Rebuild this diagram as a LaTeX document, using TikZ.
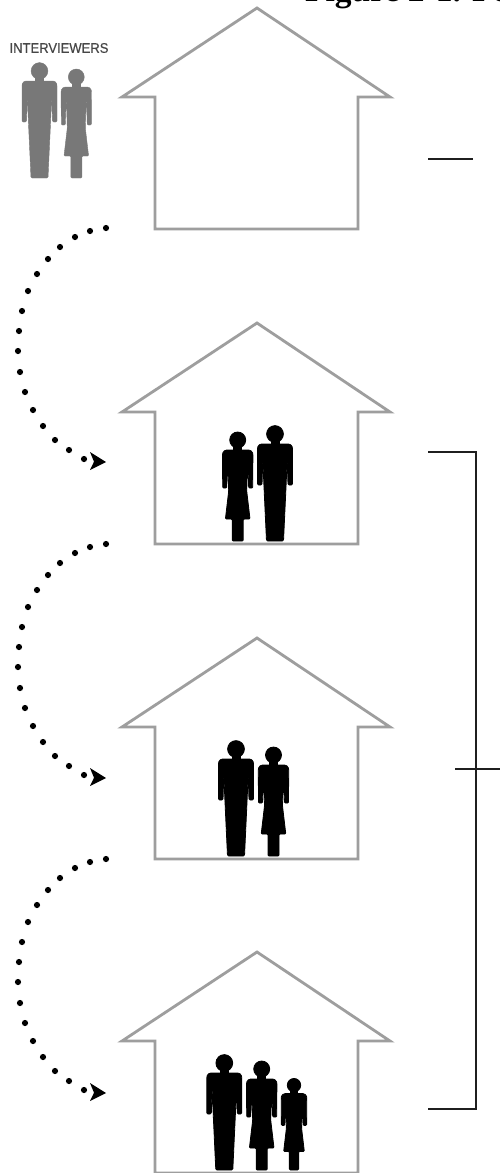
\documentclass[tikz,border=0pt]{standalone}
\usepackage{fontspec}
\setmainfont{Liberation Serif}
\newfontfamily\labelfont[FakeBold=0.5]{Liberation Sans}
\definecolor{wallgrey}{gray}{0.62}
\definecolor{intgrey}{gray}{0.47}
\tikzset{
  wall/.style={draw=wallgrey,line width=2.8pt,line join=miter,fill=white},
  bracket/.style={draw=black!88,line width=2.1pt},
  figblack/.style={fill=black,draw=black,line width=.8pt,line join=round},
  figgrey/.style={fill=intgrey,draw=intgrey,line width=.4pt,line join=round},
  pics/house/.style={code={
    \draw[wall] (122,0) -- (257,-89) -- (390,0) -- (358,0) -- (358,132) -- (155,132) -- (155,0) -- cycle;
  }},
  pics/man/.style={code={
    \path[pic actions] (0,-107) circle (8.4);
    \path[pic actions] (-4,-95) rectangle (4,-102);
    \path[pic actions,rounded corners=1.2pt] (-8.5,0) -- (-11,-54) -- (-12.2,-82) -- (-13,-56) -- (-17.5,-56)
      -- (-17.5,-93) [rounded corners=3pt] -- (-16.5,-97) -- (16.5,-97) [rounded corners=1.2pt] -- (17.5,-93) -- (17.5,-56) -- (13,-56)
      -- (12.2,-82) -- (11,-54) -- (8.5,0) -- cycle;
  }},
  pics/woman/.style={code={
    \path[pic actions] (0,-101) circle (8);
    \path[pic actions] (-4,-89) rectangle (4,-96);
    \path[pic actions,rounded corners=1pt] (-5.5,0) -- (-5.5,-22) -- (-12.3,-22) -- (-9,-50) -- (-10,-82) -- (-11,-53) -- (-15,-53)
      -- (-15.2,-87) [rounded corners=3pt] -- (-14,-91) -- (14,-91) [rounded corners=1pt] -- (15.2,-87) -- (15,-53) -- (11,-53)
      -- (10,-82) -- (9,-50) -- (12.3,-22) -- (5.5,-22) -- (5.5,0) -- cycle;
  }},
  pics/dotarc/.style={code={
    \foreach \p in {(106,228),(90,231),(75,237),(60,247),(48,259),(37,274),(28,291),(22,311),(19,331),(18,351),(20,372),(25,392),(33,410),(43,426),(55,440),(69,450),(84,459)}
      \fill[black] \p circle (3.1);
    \fill[black] (90,452) -- (106,462) -- (90,470) -- (94,461.7) -- cycle;
  }}
}
\begin{document}
\begin{tikzpicture}[x=1pt,y=-1pt]
\useasboundingbox (0,0) rectangle (500,1173);
\clip (0,0) rectangle (500,1173);
\fill[white] (0,0) rectangle (500,1173);
% title, cropped by the top edge
\node[anchor=base west,inner sep=0pt,font=\bfseries\fontsize{33.5}{33.5}\selectfont] (title) at (305,1) {Figure 2-1. Fo};
% interviewers
\node[anchor=center,inner sep=0pt,text=black!72,font=\labelfont\fontsize{14}{14}\selectfont,xscale=.93,transform shape] (lab) at (59,48) {INTERVIEWERS};
\pic[figgrey] at (39.5,178) {man};
\pic[figgrey] at (76.3,178) {woman};
% houses
\pic at (0,97) {house};
\pic at (0,412) {house};
\pic at (0,727) {house};
\pic at (0,1041) {house};
% people
\pic[figblack] at (275,541) {man};
\pic[figblack] at (237.7,541) {woman};
\pic[figblack] at (236,856) {man};
\pic[figblack] at (273.5,856) {woman};
\pic[figblack] at (224.3,1170) {man};
\pic[figblack] at (261.7,1170) {woman};
\pic[figblack,scale=.84] at (294,1170) {woman};
% dotted arcs
\pic at (0,0) {dotarc};
\pic at (0,316) {dotarc};
\pic at (0,631) {dotarc};
% brackets
\coordinate (a) at (428,159); \coordinate (a2) at (473,159);
\coordinate (b1) at (428,452); \coordinate (b2) at (476,452);
\coordinate (b3) at (476,1109); \coordinate (b4) at (428,1109);
\coordinate (c1) at (455,769); \coordinate (c2) at (500,769);
\draw[bracket] (a) -- (a2);
\draw[bracket] (b1) -- (b2) -- (b3) -- (b4);
\draw[bracket] (c1) -- (c2);
\end{tikzpicture}
\end{document}
